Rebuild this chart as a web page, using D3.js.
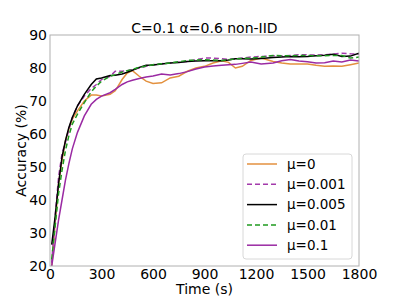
<!DOCTYPE html>
<html>
<head>
<meta charset="utf-8">
<script src="https://cdn.jsdelivr.net/npm/d3@7"></script>
<style>
  body { margin: 0; background: #fff; }
  text { font-family: "DejaVu Sans", sans-serif; fill: #000; }
</style>
</head>
<body>
<div id="chart"></div>
<script>
// time grid (s)
const times = [10,30,50,70,90,110,130,160,200,240,270,300,350,380,420,450,480,520,560,600,650,700,750,800,850,900,950,1000,1040,1080,1120,1170,1230,1300,1350,1400,1450,1500,1550,1600,1650,1700,1750,1800];

const mu0 = [19.8,33,45,52,58,61.5,64.5,67,70,71.8,71.8,71.5,72,73.1,76.5,78.5,79.2,77.5,76,75.3,75.5,77,77.5,79,80,80.5,81.5,82.2,81.7,80,80.5,82.3,83,82,81.5,81.2,81.2,81.2,80.8,80.5,80.6,80.5,81,81.5];
const mu0001 = [21,35,47,54,57.5,61.5,65,68.5,71.5,73.8,75,76.5,77.5,79,79,79.2,79.5,80,80.5,81,81.3,81.5,81.8,82,82.5,83,83,82.8,82.6,82.8,83,83.3,83.5,83.7,83.6,83.8,84,84,83.9,84,84.2,84.5,84.3,84.2];
const mu0005 = [26.5,35,45,53,58,62,65,68.5,72,75,76.7,77,77.7,77.8,78.2,78.7,79.3,80.2,80.8,80.9,81.2,81.5,81.7,82,82.1,82.2,82.2,82.2,82.4,82.8,82.8,82.7,82.9,83.2,83.3,83.5,83.4,83.5,83.7,83.9,84.2,83.5,83.6,84.5];
const mu001 = [22,32,42,49,55,59.5,63,66,69.5,72.8,74.5,76,77.5,78,78.8,79.2,79.6,80.2,80.6,81,81.3,81.5,81.9,82.3,82.4,82.5,82.4,82.3,82.5,82.8,82.9,83,83.3,83.8,83.7,83.7,83.8,83.8,83.7,83.7,83.8,83.8,83,83.3];
const mu01 = [20,27,34,40,46,51,55.5,60.5,65.5,69,70.5,71.5,72.5,73.5,75,75.8,76.3,76.8,77.3,77.6,78.2,77.9,78.3,78.9,79.7,80.3,80.6,80.8,81,81.1,81.4,81.8,81.2,81.5,82.2,82.6,82.1,81.9,81.5,81.6,82.1,81.8,82.4,82.1];

const seriesNames = ["μ=0", "μ=0.001", "μ=0.005", "μ=0.01", "μ=0.1"];
const seriesValues = [mu0, mu0001, mu0005, mu001, mu01];
const seriesColors = ["#e3913f", "#a33aab", "#000000", "#1f9a1f", "#9a2aa3"];
const seriesDash = [null, "5,3", null, "5,3", null];

const xTicks = [0, 300, 600, 900, 1200, 1500, 1800];
const yTicks = [20, 30, 40, 50, 60, 70, 80, 90];

const width = 399, height = 299;
const margin = {top: 35, right: 40, bottom: 33, left: 50};

const svg = d3.select("#chart").append("svg")
    .attr("width", width)
    .attr("height", height);

const x = d3.scaleLinear().domain([0, 1800]).range([margin.left, width - margin.right]);
const y = d3.scaleLinear().domain([20, 90]).range([height - margin.bottom, margin.top]);

// lines
const line = d3.line()
    .x((d, i) => x(times[i]))
    .y(d => y(d));

svg.append("clipPath").attr("id", "clip")
    .append("rect")
    .attr("x", x(0)).attr("y", y(90))
    .attr("width", x(1800) - x(0)).attr("height", y(20) - y(90));

const plot = svg.append("g").attr("clip-path", "url(#clip)");
seriesValues.forEach((vals, k) => {
    plot.append("path")
        .datum(vals)
        .attr("d", line)
        .attr("fill", "none")
        .attr("stroke", seriesColors[k])
        .attr("stroke-width", 1.5)
        .attr("stroke-dasharray", seriesDash[k]);
});

// axes
const xAxis = svg.append("g")
    .attr("transform", `translate(0,${y(20)})`)
    .call(d3.axisBottom(x).tickValues(xTicks).tickFormat(d3.format("d")).tickSize(0).tickPadding(3));
const yAxis = svg.append("g")
    .attr("transform", `translate(${x(0)},0)`)
    .call(d3.axisLeft(y).tickValues(yTicks).tickFormat(d3.format("d")).tickSize(0).tickPadding(3));

[xAxis, yAxis].forEach(a => {
    a.select(".domain").remove();
    a.selectAll("text").style("font-size", "14px").style("font-family", "DejaVu Sans");
});

// frame
svg.append("rect")
    .attr("x", x(0)).attr("y", y(90))
    .attr("width", x(1800) - x(0)).attr("height", y(20) - y(90))
    .attr("fill", "none")
    .attr("stroke", "#b0b0b0")
    .attr("stroke-width", 1);

// labels
svg.append("text")
    .attr("x", (x(0) + x(1800)) / 2)
    .attr("y", 294)
    .attr("text-anchor", "middle")
    .style("font-size", "14px")
    .text("Time (s)");

svg.append("text")
    .attr("transform", `translate(26,${(y(20) + y(90)) / 2}) rotate(-90)`)
    .attr("text-anchor", "middle")
    .style("font-size", "14px")
    .text("Accuracy (%)");

svg.append("text")
    .attr("x", (x(0) + x(1800)) / 2)
    .attr("y", 33)
    .attr("text-anchor", "middle")
    .style("font-size", "14px")
    .text("C=0.1 α=0.6 non-IID");

// legend
const legend = svg.append("g").attr("transform", "translate(243,154)");
legend.append("rect")
    .attr("width", 109).attr("height", 105)
    .attr("rx", 3)
    .attr("fill", "#fff")
    .attr("fill-opacity", 0.8)
    .attr("stroke", "#d8d8d8");

seriesNames.forEach((name, k) => {
    const yy = 10 + k * 20.3;
    legend.append("line")
        .attr("x1", 4).attr("x2", 34)
        .attr("y1", yy).attr("y2", yy)
        .attr("stroke", seriesColors[k])
        .attr("stroke-width", 1.5)
        .attr("stroke-dasharray", seriesDash[k]);
    legend.append("text")
        .attr("x", 44).attr("y", yy)
        .attr("dy", "0.35em")
        .style("font-size", "13.5px")
        .text(name);
});
</script>
</body>
</html>
